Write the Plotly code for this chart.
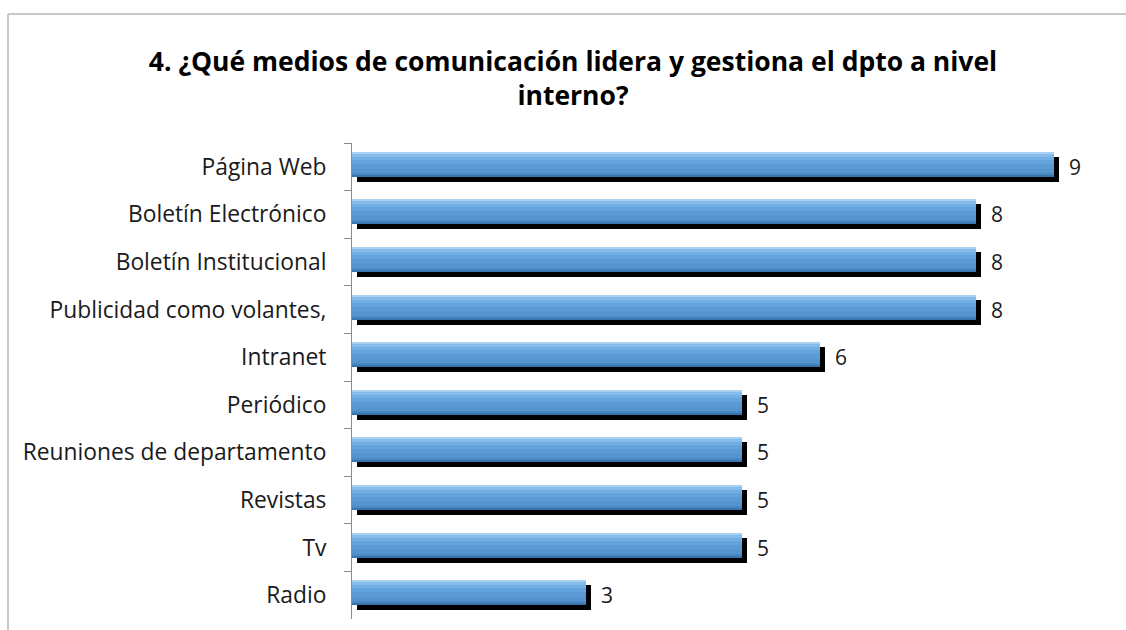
import plotly.graph_objects as go

categories = ["Página Web", "Boletín Electrónico", "Boletín Institucional",
              "Publicidad como volantes,", "Intranet", "Periódico",
              "Reuniones de departamento", "Revistas", "Tv", "Radio"]
values = [9, 8, 8, 8, 6, 5, 5, 5, 5, 3]
value_labels = ["9", "8", "8", "8", "6", "5", "5", "5", "5", "3"]

title_text = "<b>4. ¿Qué medios de comunicación lidera y gestiona el dpto a nivel<br>interno?</b>"

FONT = "Open Sans"
W, H = 1126, 630
L, R, T, B = 352, 0, 143, 11
plot_w = W - L - R
plot_h = H - T - B
XMAX = plot_w / 78.0
PX_Y = plot_h / len(categories)  # pixels per category unit
PX_X = 78.0

fig = go.Figure()

# shadow
fig.add_trace(go.Bar(
    y=categories, x=values, base=[5 / PX_X] * len(values), orientation="h",
    marker=dict(color="#000000", line=dict(width=0)),
    offset=-10 / PX_Y, width=25 / PX_Y, hoverinfo="skip", showlegend=False))

# face bands (pixel offsets from category center, color)
bands = [(-15, 10, "#3a74ae"), (-15, 8, "#4a88c4"), (-14, 6, "#5594cf"),
         (-14, 2, "#5b9bd5"), (-14, -3, "#64a3db"), (-14, -7, "#72afe2"),
         (-14, -10, "#86bce9"), (-15, -13, "#a9d1f2")]
for s, e, c in bands:
    fig.add_trace(go.Bar(
        y=categories, x=values, orientation="h",
        marker=dict(color=c, line=dict(width=0)),
        offset=s / PX_Y, width=(e - s) / PX_Y, hoverinfo="skip", showlegend=False))

for cat, v, lab in zip(categories, values, value_labels):
    fig.add_annotation(x=v, y=cat, text=lab, showarrow=False, xanchor="left",
                       xshift=13, yshift=0, font=dict(family=FONT, size=21, color="#1a1a1a"))

# outer border (top and left)
x_px = lambda p: (p - L) / plot_w
y_px = lambda p: (H - B - p) / plot_h
fig.add_shape(type="line", xref="paper", yref="paper", x0=x_px(8), x1=x_px(1130),
              y0=y_px(14), y1=y_px(14), line=dict(color="#c8c8c8", width=2))
fig.add_shape(type="line", xref="paper", yref="paper", x0=x_px(8), x1=x_px(8),
              y0=y_px(14), y1=y_px(640), line=dict(color="#c8c8c8", width=2))

fig.update_layout(
    width=W, height=H, barmode="overlay", bargap=0,
    margin=dict(l=L, r=R, t=T, b=B),
    paper_bgcolor="white", plot_bgcolor="white",
    title=dict(text=title_text, x=573 / W, xanchor="center", y=1 - 71 / H, yanchor="middle",
               font=dict(family=FONT, size=26.5, color="#000000")),
    xaxis=dict(range=[0, XMAX], visible=False, fixedrange=True),
    yaxis=dict(autorange="reversed", showline=True, linecolor="#8a8a8a", linewidth=1,
               ticks="outside", tickson="boundaries", ticklen=7, tickcolor="#8a8a8a",
               ticklabelstandoff=20,
               tickfont=dict(family=FONT, size=22.8, color="#1a1a1a"), showgrid=False),
)

fig.write_html("out.html")
